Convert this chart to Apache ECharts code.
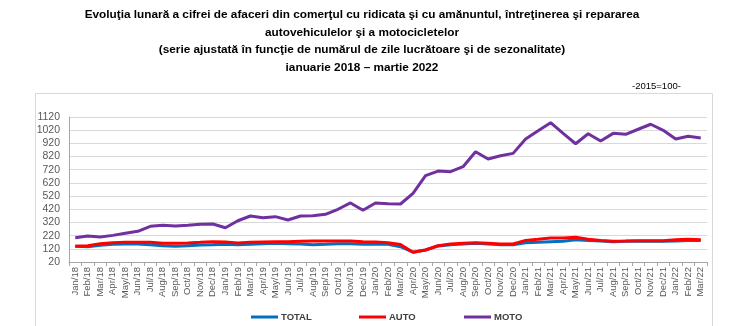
<!DOCTYPE html>
<html><head><meta charset="utf-8">
<script src="https://cdn.jsdelivr.net/npm/echarts@6/dist/echarts.min.js"></script>
<style>html,body{margin:0;padding:0;background:#fff}#c{width:730px;height:326px}</style>
</head><body><div id="c"></div>
<script>
const categories = ["Jan/18","Feb/18","Mar/18","Apr/18","May/18","Jun/18","Jul/18","Aug/18","Sep/18","Oct/18","Nov/18","Dec/18",
"Jan/19","Feb/19","Mar/19","Apr/19","May/19","Jun/19","Jul/19","Aug/19","Sep/19","Oct/19","Nov/19","Dec/19",
"Jan/20","Feb/20","Mar/20","Apr/20","May/20","Jun/20","Jul/20","Aug/20","Sep/20","Oct/20","Nov/20","Dec/20",
"Jan/21","Feb/21","Mar/21","Apr/21","May/21","Jun/21","Jul/21","Aug/21","Sep/21","Oct/21","Nov/21","Dec/21",
"Jan/22","Feb/22","Mar/22"];
const totalValues = [139,136,147,154,157,157,151,144,139,144,149,151,
154,151,154,159,162,159,157,151,154,159,159,154,
157,154,136,94,111,141,151,157,162,157,151,151,
166,169,174,177,189,184,179,174,177,177,177,177,
179,184,184];
const autoValues = [139,144,159,166,169,169,169,162,162,165,169,174,
172,165,169,172,174,174,177,179,179,179,179,174,
172,166,152,94,111,144,157,162,166,162,157,157,
184,192,202,203,207,192,184,177,179,182,182,182,
189,192,189];
const motoValues = [204,217,210,222,238,253,291,298,293,298,306,308,
280,333,369,356,364,339,369,371,382,420,468,412,
468,462,460,541,675,710,705,743,857,801,826,844,
953,1016,1077,996,917,993,938,996,989,1027,1065,1019,
953,974,961];
const yTicks = {min:20, max:1120, step:100};
const titleLines = ["Evoluţia lunară a cifrei de afaceri din comerţul cu ridicata şi cu amănuntul, întreţinerea şi repararea",
"autovehiculelor şi a motocicletelor",
"(serie ajustată în funcţie de numărul de zile lucrătoare şi de sezonalitate)",
"ianuarie 2018 – martie 2022"];
const unitNote = "-2015=100-";

const chart = echarts.init(document.getElementById('c'), null, {renderer:'canvas'});
const FONT = '"Liberation Sans", Arial, sans-serif';
const legendStyle = (name, left) => ({
  data:[name], left:left, top:312, padding:0, itemWidth:27, itemHeight:3, icon:'rect', itemGap:0,
  textStyle:{fontFamily:FONT, fontSize:9.5, fontWeight:'bold', color:'#404040', padding:[0,0,0,-2]}
});
chart.setOption({
  animation:false,
  graphic:[{type:'rect', shape:{x:35.5, y:93.5, width:677, height:260}, style:{fill:'none', stroke:'#d9d9d9', lineWidth:1}, silent:true, z:-1}],
  title:[
    {text:titleLines.join('\n'), left:362, top:6, padding:0, textAlign:'center',
     textStyle:{fontFamily:FONT, fontSize:11.8, fontWeight:'bold', color:'#000', lineHeight:17.5}},
    {text:unitNote, left:632, top:81, padding:0, textStyle:{fontFamily:FONT, fontSize:9.5, fontWeight:'normal', color:'#000'}}
  ],
  legend:[legendStyle('TOTAL',251), legendStyle('AUTO',359), legendStyle('MOTO',464)],
  grid:{left:69, right:23, top:117, bottom:64, containLabel:false},
  xAxis:{type:'category', data:categories, boundaryGap:true,
    axisLine:{lineStyle:{color:'#a6a6a6'}},
    axisTick:{show:true, alignWithLabel:false, length:4, lineStyle:{color:'#a6a6a6'}},
    axisLabel:{rotate:90, fontFamily:FONT, fontSize:9.5, color:'#595959', margin:5, interval:0}},
  yAxis:{type:'value', min:yTicks.min, max:yTicks.max, interval:yTicks.step,
    axisLine:{show:true, lineStyle:{color:'#a6a6a6'}},
    axisTick:{show:false},
    axisLabel:{fontFamily:FONT, fontSize:10.5, color:'#595959', margin:9, formatter:v=>String(v)},
    splitLine:{lineStyle:{color:'#d9d9d9', width:1}}},
  series:[
    {name:'TOTAL', type:'line', data:totalValues, symbol:'none', color:'#0070C0', lineStyle:{width:3, color:'#0070C0'}, z:2},
    {name:'AUTO', type:'line', data:autoValues, symbol:'none', color:'#FF0000', lineStyle:{width:3, color:'#FF0000'}, z:3},
    {name:'MOTO', type:'line', data:motoValues, symbol:'none', color:'#7030A0', lineStyle:{width:3, color:'#7030A0'}, z:4}
  ]
});
</script></body></html>
